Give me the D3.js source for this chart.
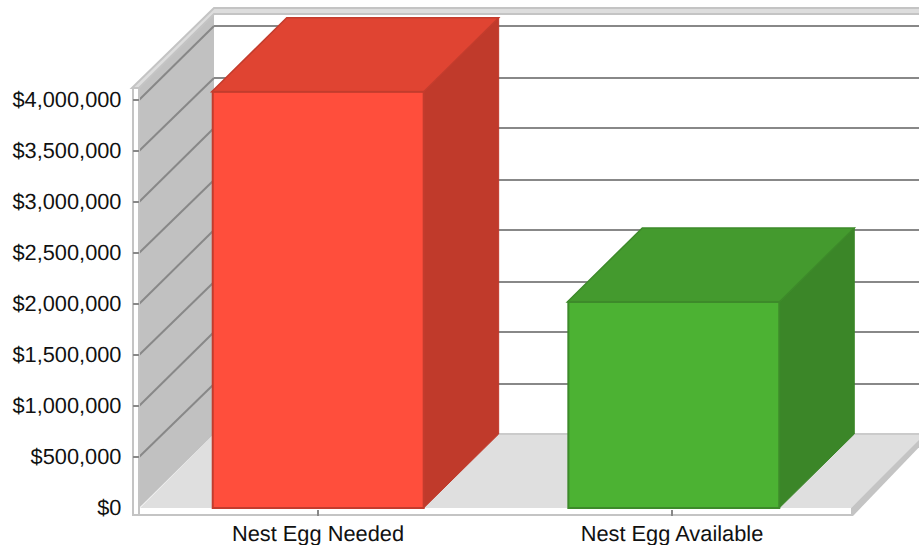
<!DOCTYPE html>
<html>
<head>
<meta charset="utf-8">
<script src="https://cdn.jsdelivr.net/npm/d3@7/dist/d3.min.js"></script>
<style>
  html, body { margin: 0; padding: 0; background: #fff; }
  svg { display: block; }
  text { font-family: "Liberation Sans", Arial, sans-serif; fill: #111; text-rendering: geometricPrecision; }
</style>
</head>
<body>
<svg id="chart" width="919" height="545"></svg>
<script>
const categories = ["Nest Egg Needed", "Nest Egg Available"];
const values = [4080000, 2020000];
const tickValues = [0, 500000, 1000000, 1500000, 2000000, 2500000, 3000000, 3500000, 4000000];
const faceColors = [
  { front: "#ff4e3c", top: "#e04432", side: "#c03a2b", edge: "#c33c2d" },
  { front: "#4cb233", top: "#449a2e", side: "#3b8628", edge: "#3d8a2a" }
];

const svg = d3.select("#chart");
const depth = 74;
const plot = { left: 140, right: 851, bottom: 508, top: 100 };

// Bars sit on one band scale, the category captions on a slightly tighter one
const x = d3.scaleBand().domain(categories)
  .range([140, 851]).paddingInner(0.404).paddingOuter(0.2017);
const xLabel = d3.scalePoint().domain(categories).range([318, 672]);
const y = d3.scaleLinear().domain([0, 4000000]).range([plot.bottom, plot.top]);
const fmt = d3.format("$,.0f");
const poly = pts => pts.map(p => p.join(",")).join(" ");
// Gridlines land on even pixels so they stay crisp at 2px
const snap = v => Math.ceil(v / 2) * 2;

const wallTop = 88;
const frame = "#c4c4c4";
const gridColor = "#888";

// Floor of the 3D box
svg.append("polygon")
  .attr("points", poly([[plot.left, plot.bottom], [plot.left + depth, plot.bottom - depth],
    [plot.right + depth + 2, plot.bottom - depth], [plot.right, plot.bottom]]))
  .attr("fill", "#dfdfdf");
svg.append("line")
  .attr("x1", plot.left + depth).attr("x2", 919)
  .attr("y1", plot.bottom - depth).attr("y2", plot.bottom - depth)
  .attr("stroke", "#cbcbcb").attr("stroke-width", 2);

// Left wall
svg.append("polygon")
  .attr("points", poly([[plot.left - 1, plot.bottom], [plot.left - 1, wallTop],
    [plot.left + depth, wallTop - depth], [plot.left + depth, plot.bottom - depth]]))
  .attr("fill", "#c1c1c1");

// Top rim running along the wall and the back
svg.append("polygon")
  .attr("points", poly([[plot.left - 8, wallTop], [plot.left - 8 + depth + 8, 8],
    [921, 8], [921, 14], [plot.left + depth, 14], [plot.left - 1, wallTop]]))
  .attr("fill", "#dddddd").attr("stroke", frame).attr("stroke-width", 2);

// Gridlines across the back and the wall
const grid = svg.append("g").attr("fill", "none").attr("stroke", gridColor).attr("stroke-width", 2);
tickValues.filter(d => d > 0).forEach(d => {
  const py = y(d), back = snap(py - depth);
  grid.append("path").attr("d", d3.line()([[plot.left - 1, py], [plot.left + depth, back]]));
  grid.append("path").attr("d", d3.line()([[plot.left + depth, back], [919, back]]));
});

// Front frame: left post, base strip and the strip's receding end
svg.append("rect").attr("x", 133).attr("y", wallTop).attr("width", 6)
  .attr("height", plot.bottom + 7 - wallTop).attr("fill", "#fff")
  .attr("stroke", frame).attr("stroke-width", 2);
svg.append("rect").attr("x", 140).attr("y", plot.bottom + 1).attr("width", plot.right - 140)
  .attr("height", 6).attr("fill", "#fff");
svg.append("polygon")
  .attr("points", poly([[plot.right, plot.bottom], [plot.right + depth, plot.bottom - depth],
    [plot.right + depth, plot.bottom - depth + 7], [plot.right + 2, plot.bottom + 8], [plot.right, plot.bottom + 8]]))
  .attr("fill", frame);
svg.append("line").attr("x1", 132).attr("x2", plot.right + 1)
  .attr("y1", plot.bottom + 7).attr("y2", plot.bottom + 7)
  .attr("stroke", frame).attr("stroke-width", 2);

// Value axis tick stubs across the post
tickValues.filter(d => d > 0).forEach(d => {
  svg.append("line").attr("x1", plot.left - 7).attr("x2", plot.left - 1)
    .attr("y1", y(d)).attr("y2", y(d)).attr("stroke", gridColor).attr("stroke-width", 2);
});

// Bars as three-faced boxes
categories.forEach((c, i) => {
  const x0 = x(c), x1 = x0 + x.bandwidth(), yt = y(values[i]), yb = y(0);
  const col = faceColors[i], g = svg.append("g"), dx = depth + 1;
  g.append("polygon")
    .attr("points", poly([[x1, yt], [x1 + dx, yt - depth], [x1 + dx, yb - depth], [x1, yb]]))
    .attr("fill", col.side).attr("stroke", col.side);
  g.append("polygon")
    .attr("points", poly([[x0, yt], [x0 + dx, yt - depth], [x1 + dx, yt - depth], [x1, yt]]))
    .attr("fill", col.top).attr("stroke", col.edge).attr("stroke-width", 1.5);
  g.append("rect").attr("x", x0 + 1).attr("y", yt).attr("width", x1 - x0 - 1)
    .attr("height", yb - yt).attr("fill", col.front)
    .attr("stroke", col.edge).attr("stroke-width", 2);
});

// Value axis labels
svg.append("g").selectAll("text").data(tickValues).join("text")
  .attr("x", 121.5).attr("y", d => y(d) + 6.5)
  .attr("text-anchor", "end").attr("font-size", 21.8).text(d => fmt(d));

// Category ticks and labels
categories.forEach(c => {
  const cx = xLabel(c);
  svg.append("line").attr("x1", cx).attr("x2", cx)
    .attr("y1", plot.bottom + 2).attr("y2", plot.bottom + 8)
    .attr("stroke", gridColor).attr("stroke-width", 2);
  svg.append("text").attr("x", cx).attr("y", 541).attr("text-anchor", "middle")
    .attr("font-size", 21.8).text(c);
});
</script>
</body>
</html>
